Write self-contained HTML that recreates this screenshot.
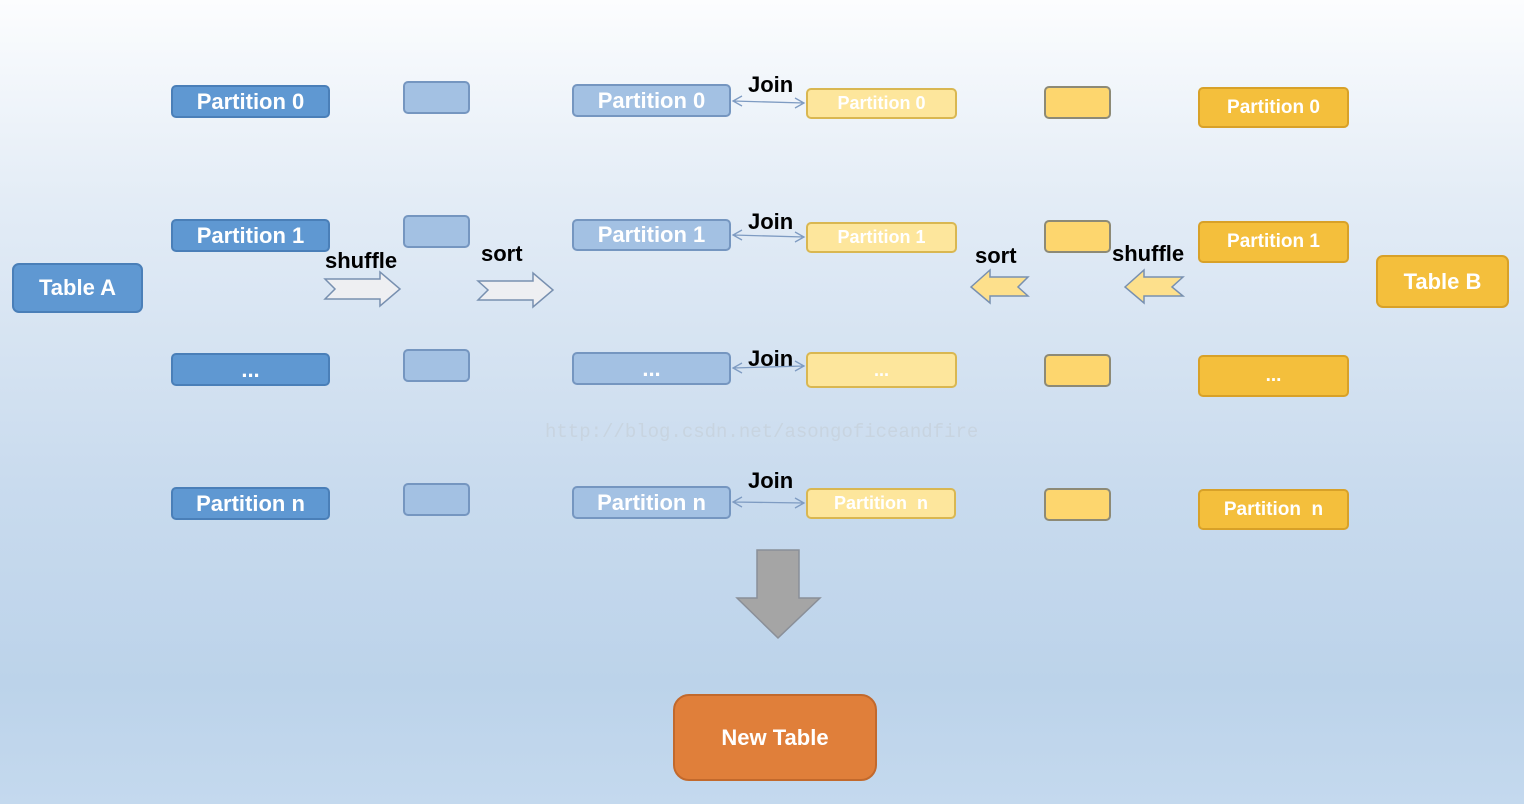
<!DOCTYPE html>
<html><head><meta charset="utf-8"><style>
html,body{margin:0;padding:0}
body{width:1524px;height:804px;overflow:hidden;background:linear-gradient(#fcfdfe 0%,#e3ecf6 25%,#c9dbee 60%,#bcd3ea 85%,#c4d9ee 100%);font-family:"Liberation Sans",sans-serif;position:relative}
.b{position:absolute;box-sizing:border-box;border-radius:5px;color:#fff;font-weight:bold;font-size:22px;display:flex;align-items:center;justify-content:center}
.a{background:#5f98d2;border:2px solid #4a7fb8}
.s{background:#a3c1e3;border:2px solid #7596c0}
.y{background:#fde69c;border:2px solid #d9b751}
.ys{background:#fdd66e;border:2px solid #8d8a76}
.g{background:#f4bf3c;border:2px solid #d8a128}
.l{position:absolute;font-weight:bold;font-size:22px;color:#000}
</style></head><body>
<div class="b a" style="left:12px;top:263px;width:131px;height:50px;border-radius:7px">Table A</div>
<div class="b a" style="left:171px;top:85px;width:159px;height:33px">Partition 0</div>
<div class="b a" style="left:171px;top:219px;width:159px;height:33px">Partition 1</div>
<div class="b a" style="left:171px;top:353px;width:159px;height:33px">...</div>
<div class="b a" style="left:171px;top:487px;width:159px;height:33px">Partition n</div>
<div class="b s" style="left:403px;top:81px;width:67px;height:33px"></div>
<div class="b s" style="left:403px;top:215px;width:67px;height:33px"></div>
<div class="b s" style="left:403px;top:349px;width:67px;height:33px"></div>
<div class="b s" style="left:403px;top:483px;width:67px;height:33px"></div>
<div class="b s" style="left:572px;top:84px;width:159px;height:33px">Partition 0</div>
<div class="b s" style="left:572px;top:219px;width:159px;height:32px">Partition 1</div>
<div class="b s" style="left:572px;top:352px;width:159px;height:33px">...</div>
<div class="b s" style="left:572px;top:486px;width:159px;height:33px">Partition n</div>
<div class="b y" style="left:806px;top:88px;width:151px;height:31px;font-size:18px">Partition 0</div>
<div class="b y" style="left:806px;top:222px;width:151px;height:31px;font-size:18px">Partition 1</div>
<div class="b y" style="left:806px;top:352px;width:151px;height:36px;font-size:18px">...</div>
<div class="b y" style="left:806px;top:488px;width:150px;height:31px;font-size:18px">Partition&nbsp; n</div>
<div class="b ys" style="left:1044px;top:86px;width:67px;height:33px"></div>
<div class="b ys" style="left:1044px;top:220px;width:67px;height:33px"></div>
<div class="b ys" style="left:1044px;top:354px;width:67px;height:33px"></div>
<div class="b ys" style="left:1044px;top:488px;width:67px;height:33px"></div>
<div class="b g" style="left:1198px;top:87px;width:151px;height:41px;font-size:19px">Partition 0</div>
<div class="b g" style="left:1198px;top:221px;width:151px;height:42px;font-size:19px">Partition 1</div>
<div class="b g" style="left:1198px;top:355px;width:151px;height:42px;font-size:19px">...</div>
<div class="b g" style="left:1198px;top:489px;width:151px;height:41px;font-size:19px">Partition&nbsp; n</div>
<div class="b g" style="left:1376px;top:255px;width:133px;height:53px;border-radius:7px">Table B</div>
<div class="b" style="left:673px;top:694px;width:204px;height:87px;background:#e07f3a;border:2px solid #c2692c;border-radius:16px">New Table</div>
<div class="l" style="left:748px;top:72px">Join</div>
<div class="l" style="left:748px;top:209px">Join</div>
<div class="l" style="left:748px;top:346px">Join</div>
<div class="l" style="left:748px;top:468px">Join</div>
<div class="l" style="left:325px;top:248px">shuffle</div>
<div class="l" style="left:481px;top:241px">sort</div>
<div class="l" style="left:975px;top:243px">sort</div>
<div class="l" style="left:1112px;top:241px">shuffle</div>
<div style="position:absolute;left:545px;top:421px;font-family:'Liberation Mono',monospace;font-size:19px;color:#c8d4e0">http://blog.csdn.net/asongoficeandfire</div>
<svg width="1524" height="804" style="position:absolute;left:0;top:0">
<g stroke="#7e9bc2" stroke-width="1.3" fill="none">
<path d="M733 101 L804 103 M742 96 L733 101 L742 106 M795 98 L804 103 L795 108"/>
<path d="M733 235 L804 237 M742 230 L733 235 L742 240 M795 232 L804 237 L795 242"/>
<path d="M733 368 L804 366 M742 363 L733 368 L742 373 M795 361 L804 366 L795 371"/>
<path d="M733 502 L804 503 M742 497 L733 502 L742 507 M795 498 L804 503 L795 508"/>
</g>
<g fill="#eeeff2" stroke="#7890b0" stroke-width="1.5">
<polygon points="325,279 380,279 380,272 400,289 380,306 380,299 325,299 335,289"/>
<polygon points="478,281 533,281 533,273 553,290 533,307 533,300 478,300 488,290"/>
</g>
<g fill="#fde08c" stroke="#7890b0" stroke-width="1.5">
<polygon points="971,287 990,270 990,277 1028,277 1018,287 1028,296 990,296 990,303"/>
<polygon points="1125,287 1144,270 1144,277 1183,277 1172,287 1183,296 1144,296 1144,303"/>
</g>
<polygon points="757,550 799,550 799,598 820,598 778,638 737,598 757,598" fill="#a5a5a5" stroke="#8a8f98" stroke-width="1.5"/>
</svg>
</body></html>
